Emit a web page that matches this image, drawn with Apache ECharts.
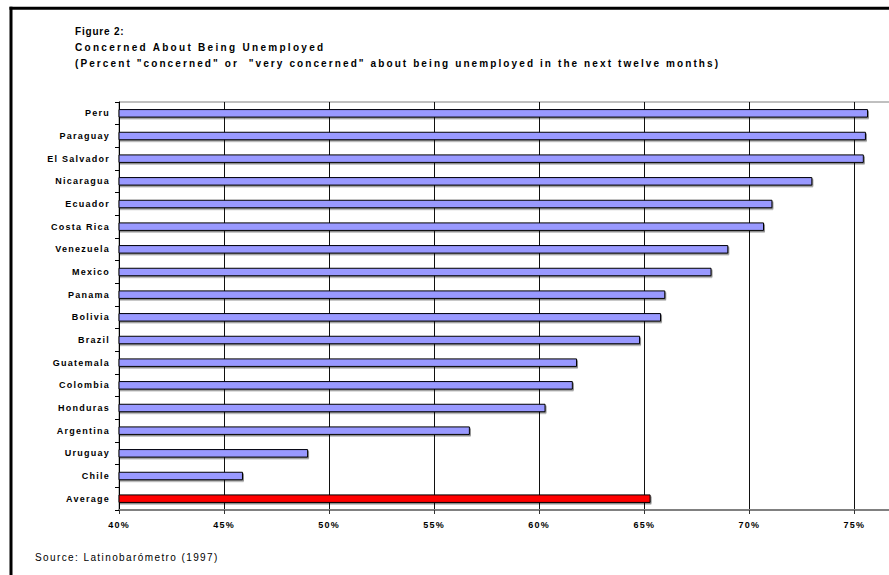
<!DOCTYPE html>
<html>
<head>
<meta charset="utf-8">
<script src="https://cdn.jsdelivr.net/npm/echarts@6.0.0/dist/echarts.min.js"></script>
<style>
html,body{margin:0;padding:0;background:#fff;overflow:hidden;}
#c{width:889px;height:575px;overflow:hidden;}
</style>
</head>
<body>
<div id="c"></div>
<script>
const categories = ['Peru','Paraguay','El Salvador','Nicaragua','Ecuador','Costa Rica','Venezuela','Mexico','Panama','Bolivia','Brazil','Guatemala','Colombia','Honduras','Argentina','Uruguay','Chile','Average'];
const values = [75.65,75.55,75.45,73.0,71.1,70.7,69.0,68.2,66.0,65.8,64.8,61.8,61.6,60.3,56.7,49.0,45.9,65.3];
const xTicks = [40,45,50,55,60,65,70,75];
const titleLines = ['Figure 2:','Concerned About Being Unemployed','(Percent "concerned" or  "very concerned" about being unemployed in the next twelve months)'];
const sourceText = 'Source: Latinobarómetro (1997)';

const FONT = "'Liberation Sans', Arial, Helvetica, sans-serif";
const chart = echarts.init(document.getElementById('c'), null, {renderer: 'svg'});

const barData = values.map((v, i) => categories[i] === 'Average'
  ? {value: v, itemStyle: {color: '#ff0000'}}
  : v);

const titleStyle = {fontFamily: FONT, fontSize: 10, fontWeight: 'bold', color: '#000', lineHeight: 16};

const option = {
  animation: false,
  backgroundColor: '#fff',
  title: [
    {text: titleLines[0], left: 75, top: 23, padding: 0, textStyle: titleStyle},
    {text: titleLines[1], left: 75, top: 39, padding: 0, textStyle: titleStyle},
    {text: titleLines[2], left: 75, top: 55, padding: 0, textStyle: titleStyle},
    {text: sourceText, left: 35, top: 549, padding: 0,
     textStyle: {fontFamily: FONT, fontSize: 10, fontWeight: 'normal', color: '#000', lineHeight: 16}}
  ],
  graphic: [
    {type: 'line', silent: true, z: 100,
     shape: {x1: 9.5, y1: 8.3, x2: 889, y2: 8.3},
     style: {stroke: '#000', lineWidth: 3}},
    {type: 'line', silent: true, z: 100,
     shape: {x1: 11, y1: 6.8, x2: 11, y2: 575},
     style: {stroke: '#000', lineWidth: 3}}
  ],
  grid: {
    left: 119, top: 102, width: 790, height: 408,
    containLabel: false,
    outerBoundsMode: 'none',
    show: true, borderColor: '#808080', borderWidth: 1, backgroundColor: 'transparent'
  },
  xAxis: {
    type: 'value',
    min: 40, max: 77.6, interval: 5,
    axisLine: {show: true, lineStyle: {color: '#808080', width: 2}},
    axisTick: {show: true, length: 4, lineStyle: {color: '#333', width: 1}},
    splitLine: {show: true, lineStyle: {color: '#111', width: 1, type: 'solid'}},
    axisLabel: {
      show: true, margin: 10, color: '#000', fontFamily: FONT, fontSize: 9, fontWeight: 'bold',
      formatter: v => xTicks.includes(v) ? v + '%' : ''
    }
  },
  yAxis: {
    type: 'category',
    data: categories,
    inverse: true,
    axisLine: {show: true, lineStyle: {color: '#000', width: 1}},
    axisTick: {show: true, inside: false, length: 4, alignWithLabel: false, lineStyle: {color: '#000', width: 1}},
    splitLine: {show: false},
    axisLabel: {show: true, margin: 9, color: '#000', fontFamily: FONT, fontSize: 9, fontWeight: 'bold'}
  },
  series: [{
    type: 'bar',
    data: barData,
    barWidth: 8.5,
    itemStyle: {
      color: '#9999ff', borderColor: '#000', borderWidth: 1,
      shadowColor: 'rgba(0,0,0,0.45)', shadowOffsetX: 1, shadowOffsetY: 1.5, shadowBlur: 0
    },
    silent: true
  }]
};

chart.setOption(option);

function spacingFor(txt) {
  if (txt === titleLines[0]) return 0.8;
  if (txt === titleLines[1]) return 2.3;
  if (txt === titleLines[2]) return 2.1;
  if (txt === sourceText) return 1.4;
  return 1.25;
}
function applySpacing() {
  document.querySelectorAll('#c svg text').forEach(t => {
    t.style.letterSpacing = spacingFor(t.textContent) + 'px';
  });
}
applySpacing();
chart.on('finished', applySpacing);
</script>
</body>
</html>
